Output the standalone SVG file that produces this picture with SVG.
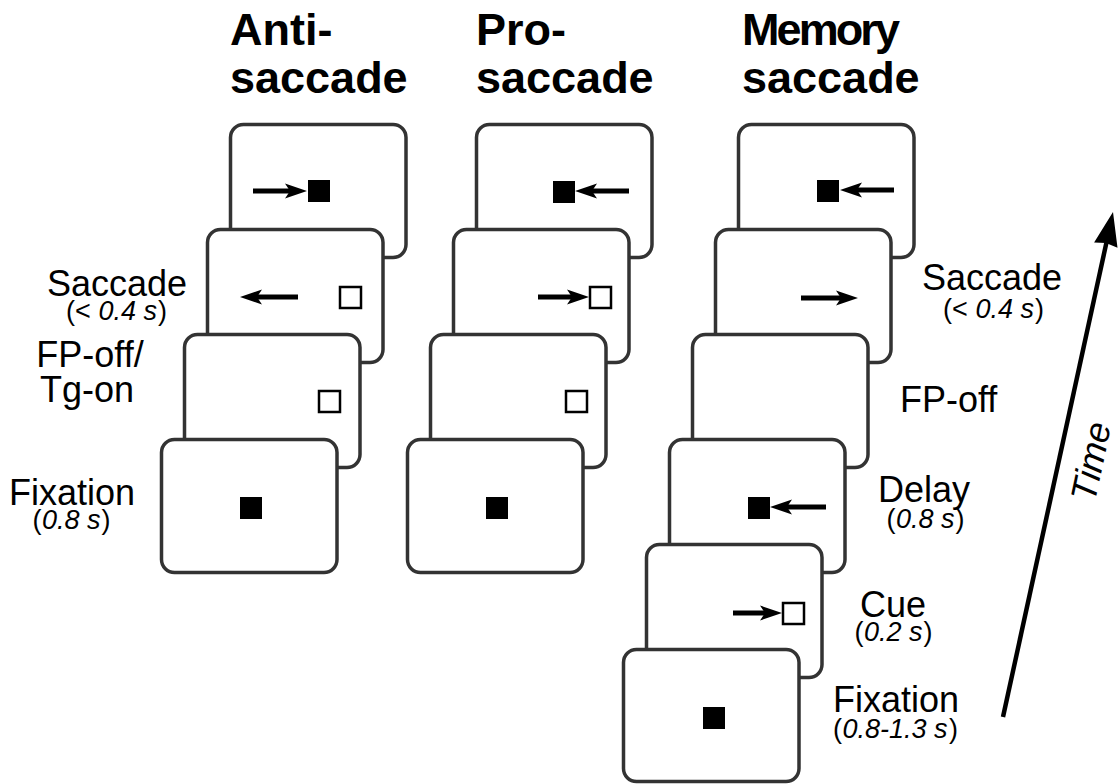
<svg xmlns="http://www.w3.org/2000/svg" width="1119" height="784" viewBox="0 0 1119 784">
<defs>
<style>
.card{fill:#fff;stroke:#333;stroke-width:3.5}
.fill{fill:#000}
.hollow{fill:#fff;stroke:#000;stroke-width:2.5}
.shaft{stroke:#000;stroke-width:5;fill:none}
.head{fill:#000}
.hdr{font-family:"Liberation Sans",Arial,sans-serif;font-weight:bold;font-size:45px;fill:#000}
.lbl{font-family:"Liberation Sans",Arial,sans-serif;font-size:36px;fill:#000}
.sub{font-family:"Liberation Sans",Arial,sans-serif;font-size:27px;fill:#000}
.it{font-style:italic}
</style>
</defs>
<rect width="1119" height="784" fill="#fff"/>

<g id="headers">
<text class="hdr" x="230" y="45">Anti-</text>
<text class="hdr" x="230" y="93">saccade</text>
<text class="hdr" x="476" y="45">Pro-</text>
<text class="hdr" x="476" y="93">saccade</text>
<text class="hdr" x="742" y="45" textLength="158" lengthAdjust="spacing">Memory</text>
<text class="hdr" x="742" y="93">saccade</text>
</g>

<g id="anti">
<g id="anti-1">
<rect class="card" x="230.5" y="124.5" width="175.5" height="133" rx="13"/>
<line class="shaft" x1="253" y1="191" x2="291" y2="191"/>
<path class="head" d="M307,191 L285,183.5 L290,191 L285,198.5 Z"/>
<rect class="fill" x="308" y="180" width="22" height="22"/>
</g>
<g id="anti-2">
<rect class="card" x="207.5" y="229.5" width="175.5" height="133" rx="13"/>
<line class="shaft" x1="298" y1="297" x2="256" y2="297"/>
<path class="head" d="M240,297 L262,289.5 L257,297 L262,304.5 Z"/>
<rect class="hollow" x="340" y="287" width="21" height="21"/>
</g>
<g id="anti-3">
<rect class="card" x="184.5" y="334.5" width="175.5" height="133" rx="13"/>
<rect class="hollow" x="319" y="391" width="21" height="21"/>
</g>
<g id="anti-4">
<rect class="card" x="161.5" y="439.5" width="175.5" height="133" rx="13"/>
<rect class="fill" x="240" y="497" width="22" height="22"/>
</g>
</g>

<g id="pro">
<g id="pro-1">
<rect class="card" x="476.5" y="124.5" width="175.5" height="133" rx="13"/>
<rect class="fill" x="553" y="181" width="22" height="22"/>
<line class="shaft" x1="629" y1="191" x2="591" y2="191"/>
<path class="head" d="M575,191 L597,183.5 L592,191 L597,198.5 Z"/>
</g>
<g id="pro-2">
<rect class="card" x="453.5" y="229.5" width="175.5" height="133" rx="13"/>
<line class="shaft" x1="538" y1="297" x2="573" y2="297"/>
<path class="head" d="M589,297 L567,289.5 L572,297 L567,304.5 Z"/>
<rect class="hollow" x="590" y="287" width="21" height="21"/>
</g>
<g id="pro-3">
<rect class="card" x="430.5" y="334.5" width="175.5" height="133" rx="13"/>
<rect class="hollow" x="566" y="391" width="21" height="21"/>
</g>
<g id="pro-4">
<rect class="card" x="407.5" y="439.5" width="175.5" height="133" rx="13"/>
<rect class="fill" x="486" y="497" width="22" height="22"/>
</g>
</g>

<g id="memory">
<g id="mem-1">
<rect class="card" x="738.5" y="124.5" width="175.5" height="133" rx="13"/>
<rect class="fill" x="817" y="180" width="22" height="22"/>
<line class="shaft" x1="894" y1="190" x2="856" y2="190"/>
<path class="head" d="M840,190 L862,182.5 L857,190 L862,197.5 Z"/>
</g>
<g id="mem-2">
<rect class="card" x="715.5" y="229.5" width="175.5" height="133" rx="13"/>
<line class="shaft" x1="801" y1="298" x2="842" y2="298"/>
<path class="head" d="M858,298 L836,290.5 L841,298 L836,305.5 Z"/>
</g>
<g id="mem-3">
<rect class="card" x="692.5" y="334.5" width="175.5" height="133" rx="13"/>
</g>
<g id="mem-4">
<rect class="card" x="669.5" y="439.5" width="175.5" height="133" rx="13"/>
<rect class="fill" x="748" y="497" width="22" height="22"/>
<line class="shaft" x1="826" y1="507" x2="786" y2="507"/>
<path class="head" d="M770,507 L792,499.5 L787,507 L792,514.5 Z"/>
</g>
<g id="mem-5">
<rect class="card" x="646.5" y="544.5" width="175.5" height="133" rx="13"/>
<line class="shaft" x1="733" y1="613" x2="766" y2="613"/>
<path class="head" d="M782,613 L760,605.5 L765,613 L760,620.5 Z"/>
<rect class="hollow" x="783" y="603" width="21" height="21"/>
</g>
<g id="mem-6">
<rect class="card" x="623.5" y="649.5" width="175.5" height="132" rx="13"/>
<rect class="fill" x="703" y="707" width="22" height="22"/>
</g>
</g>

<g id="labels-left">
<text class="lbl" x="117" y="296" text-anchor="middle">Saccade</text>
<text class="sub" x="66" y="320">(&lt;</text>
<text class="sub it" x="98.5" y="320">0.4 s</text>
<text class="sub" x="158" y="320">)</text>
<text class="lbl" x="90" y="367" text-anchor="middle">FP-off/</text>
<text class="lbl" x="87" y="402" text-anchor="middle">Tg-on</text>
<text class="lbl" x="72" y="505" text-anchor="middle">Fixation</text>
<text class="sub" x="32.5" y="529">(</text>
<text class="sub it" x="42" y="529">0.8 s</text>
<text class="sub" x="101.5" y="529">)</text>
</g>

<g id="labels-right">
<text class="lbl" x="992" y="290" text-anchor="middle">Saccade</text>
<text class="sub" x="943" y="318">(&lt;</text>
<text class="sub it" x="975.5" y="318">0.4 s</text>
<text class="sub" x="1035" y="318">)</text>
<text class="lbl" x="900" y="412">FP-off</text>
<text class="lbl" x="924" y="502" text-anchor="middle">Delay</text>
<text class="sub" x="886.5" y="528">(</text>
<text class="sub it" x="896" y="528">0.8 s</text>
<text class="sub" x="955.5" y="528">)</text>
<text class="lbl" x="893" y="617" text-anchor="middle">Cue</text>
<text class="sub" x="854.5" y="641">(</text>
<text class="sub it" x="864" y="641">0.2 s</text>
<text class="sub" x="923.5" y="641">)</text>
<text class="lbl" x="896" y="712" text-anchor="middle">Fixation</text>
<text class="sub" x="833" y="738">(</text>
<text class="sub it" x="842.5" y="738">0.8-1.3 s</text>
<text class="sub" x="949" y="738">)</text>
</g>

<g id="connectors">
<line x1="1003" y1="717" x2="1107" y2="240" stroke="#000" stroke-width="4.5"/>
<path d="M1113,212 L1117.5,247.8 L1106,243 L1094.1,242.6 Z" fill="#000"/>
</g>

<g id="time-label">
<text class="lbl it" x="1103" y="464" text-anchor="middle" font-size="33" transform="rotate(-78 1103 464)">Time</text>
</g>
</svg>
